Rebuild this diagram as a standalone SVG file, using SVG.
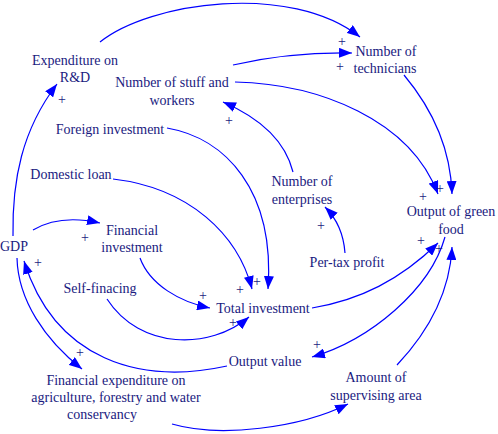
<svg xmlns="http://www.w3.org/2000/svg" width="498" height="434" viewBox="0 0 498 434">
<style>
text{font-size:14px;fill:#1a1a80;text-anchor:middle}
.p{font-size:14px}
.c path{fill:none;stroke:#0000ff;stroke-width:1.2;marker-end:url(#a)}
</style>
<defs>
<marker id="a" markerUnits="userSpaceOnUse" markerWidth="14" markerHeight="10" refX="13" refY="5" orient="auto">
<path d="M0,0 L13,5 L0,10 z" fill="#0000ff"/>
</marker>
</defs>
<rect width="498" height="434" fill="#fff"/>
<g class="c" id="connectors">
<path d="M13,236 C12,180 22,130 57,84"/>
<path d="M100,42 C150,2 290,-18 360,37"/>
<path d="M233,65 Q290,52 352,53"/>
<path d="M235,82 C320,84 410,120 438,194"/>
<path d="M404,75 Q450,130 452,194"/>
<path d="M293,172 C285,140 260,118 223,102"/>
<path d="M345,253 Q343,225 325,207"/>
<path d="M167,128 C225,138 275,190 268,289"/>
<path d="M113,179 C190,188 238,235 252,289"/>
<path d="M140,258 C150,285 180,302 210,308"/>
<path d="M107,299 C140,350 210,350 249,317"/>
<path d="M33,230 Q60,214 100,223"/>
<path d="M312,308 C360,300 400,280 438,243"/>
<path d="M445,237 C430,290 370,340 312,357"/>
<path d="M397,365 C430,330 450,290 452,247"/>
<path d="M227,366 C140,385 55,360 24,261"/>
<path d="M17,258 C18,300 45,340 82,369"/>
<path d="M172,424 C220,438 300,428 348,404"/>
</g>
<g font-family="Liberation Serif, serif">
<g id="rd"><text x="75" y="65">Expenditure on</text><text x="75" y="82">R&amp;D</text></g>
<g id="technicians"><text x="386" y="56">Number of</text><text x="385" y="73">technicians</text></g>
<g id="stuff"><text x="172" y="87">Number of stuff and</text><text x="172" y="105">workers</text></g>
<g id="foreign"><text x="110" y="134">Foreign investment</text></g>
<g id="domestic"><text x="71" y="179">Domestic loan</text></g>
<g id="enterprises"><text x="302" y="186">Number of</text><text x="302" y="204">enterprises</text></g>
<g id="green"><text x="451" y="216">Output of green</text><text x="451" y="234">food</text></g>
<g id="gdp"><text x="14" y="251">GDP</text></g>
<g id="fininv"><text x="132" y="235">Financial</text><text x="132" y="252">investment</text></g>
<g id="self"><text x="100" y="293">Self-finacing</text></g>
<g id="total"><text x="263" y="313">Total investment</text></g>
<g id="pertax"><text x="347" y="267">Per-tax profit</text></g>
<g id="outval"><text x="265" y="366">Output value</text></g>
<g id="finexp"><text x="116" y="385">Financial expenditure on</text><text x="116" y="402">agriculture, forestry and water</text><text x="102" y="419">conservancy</text></g>
<g id="amount"><text x="376" y="382">Amount of</text><text x="376" y="400">supervising area</text></g>
<g id="signs">
<text class="p" x="62" y="104">+</text>
<text class="p" x="342" y="46">+</text>
<text class="p" x="340" y="71">+</text>
<text class="p" x="229" y="125">+</text>
<text class="p" x="321" y="230">+</text>
<text class="p" x="85" y="242">+</text>
<text class="p" x="38" y="267">+</text>
<text class="p" x="80" y="357">+</text>
<text class="p" x="203" y="300">+</text>
<text class="p" x="240" y="294">+</text>
<text class="p" x="257" y="286">+</text>
<text class="p" x="233" y="327">+</text>
<text class="p" x="423" y="201">+</text>
<text class="p" x="440" y="193">+</text>
<text class="p" x="421" y="245">+</text>
<text class="p" x="439" y="253">+</text>
<text class="p" x="317" y="349">+</text>
</g>
</g>
</svg>
